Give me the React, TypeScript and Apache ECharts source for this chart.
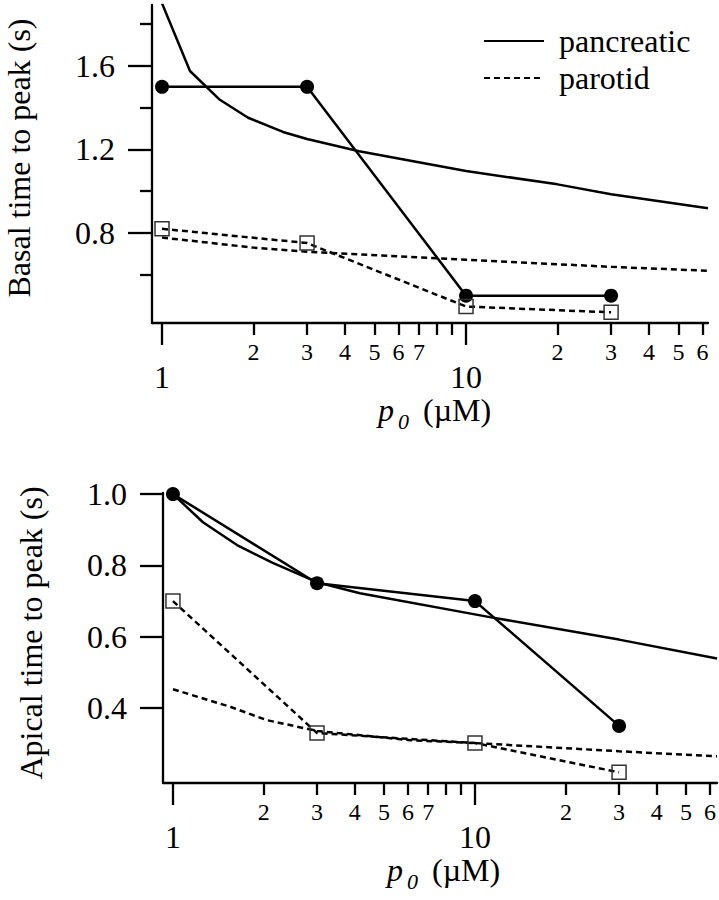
import React, { useEffect, useRef } from "react";
import * as echarts from "echarts";

const FONT = "Liberation Serif";

// ---------- Basal (top panel) ----------
const basalPancModelX = [1, 1.236, 1.55, 1.92, 2.5, 3, 4.45, 10, 20, 30, 62.5];
const basalPancModelY = [1.9, 1.576, 1.438, 1.352, 1.284, 1.25, 1.192, 1.097, 1.033, 0.986, 0.919];
const basalParModelX = [1, 2, 3, 10, 30, 62.5];
const basalParModelY = [0.778, 0.73, 0.71, 0.672, 0.638, 0.619];
const basalPancDataX = [1, 3, 10, 30];
const basalPancDataY = [1.5, 1.5, 0.5, 0.5];
const basalParDataX = [1, 3, 10, 30];
const basalParDataY = [0.82, 0.752, 0.448, 0.42];

// ---------- Apical (bottom panel) ----------
const apicalPancModelX = [1, 1.257, 1.63, 2.14, 3, 4.16, 11.2, 30, 63.3];
const apicalPancModelY = [1.0, 0.921, 0.857, 0.807, 0.753, 0.722, 0.655, 0.592, 0.539];
const apicalParModelX = [1, 1.555, 2.05, 3, 6.1, 10, 30, 63.3];
const apicalParModelY = [0.453, 0.403, 0.366, 0.336, 0.31, 0.302, 0.279, 0.265];
const apicalPancDataX = [1, 3, 10, 30];
const apicalPancDataY = [1.0, 0.75, 0.7, 0.35];
const apicalParDataX = [1, 3, 10, 30];
const apicalParDataY = [0.7, 0.33, 0.302, 0.22];

// ---------- Ticks ----------
const xMajorTicks = [1, 10];
const xMinorTicks = [2, 3, 4, 5, 6, 7, 8, 9, 20, 30, 40, 50, 60];
const xMinorLabels = [2, 3, 4, 5, 6, 7, 20, 30, 40, 50, 60];
const basalYMajor = [0.8, 1.2, 1.6];
const basalYMinor = [0.6, 1.0, 1.4, 1.8];
const apicalYTicks = [0.4, 0.6, 0.8, 1.0];

const zip = (xs: number[], ys: number[]) => xs.map((x, i) => [x, ys[i]]);

const BLACK = "#000";
const lineStyleAxis = { color: BLACK, width: 2.3 };

function xMajor(gridIndex: number, min: number, max: number) {
  return {
    type: "log",
    logBase: 10,
    gridIndex,
    min,
    max,
    position: "bottom",
    axisLine: { show: true, onZero: false, lineStyle: lineStyleAxis },
    axisTick: { show: true, length: 22, lineStyle: lineStyleAxis, customValues: xMajorTicks },
    axisLabel: {
      show: true,
      customValues: xMajorTicks,
      fontSize: 32,
      margin: 38,
      color: BLACK,
      fontFamily: FONT,
      formatter: (v: number) => String(Math.round(v)),
    },
    splitLine: { show: false },
    minorTick: { show: false },
  };
}

function xMinor(gridIndex: number, min: number, max: number) {
  return {
    type: "log",
    logBase: 10,
    gridIndex,
    min,
    max,
    position: "bottom",
    axisLine: { show: false },
    axisTick: { show: true, length: 12, lineStyle: lineStyleAxis, customValues: xMinorTicks },
    axisLabel: {
      show: true,
      customValues: xMinorLabels,
      fontSize: 24,
      margin: 17,
      color: BLACK,
      fontFamily: FONT,
      formatter: (v: number) => {
        const p = Math.pow(10, Math.floor(Math.log10(v) + 1e-9));
        return String(Math.round(v / p));
      },
    },
    splitLine: { show: false },
    minorTick: { show: false },
  };
}

function yAxis(
  gridIndex: number,
  min: number,
  max: number,
  ticks: number[],
  tickLen: number,
  labels: boolean,
  line: boolean,
  margin: number
) {
  return {
    type: "value",
    gridIndex,
    position: "left",
    offset: 0,
    min,
    max,
    axisLine: { show: line, onZero: false, lineStyle: lineStyleAxis },
    axisTick: { show: true, length: tickLen, lineStyle: lineStyleAxis, customValues: ticks },
    axisLabel: labels
      ? {
          show: true,
          customValues: ticks,
          fontSize: 32,
          margin,
          color: BLACK,
          fontFamily: FONT,
          formatter: (v: number) => v.toFixed(1),
        }
      : { show: false },
    splitLine: { show: false },
  };
}

const solid = { color: BLACK, width: 2.5, type: "solid" as const };
const dashed = { color: BLACK, width: 2.5, type: [6, 4] };

function modelSeries(name: string, xi: number, yi: number, data: number[][], ls: any) {
  return {
    name,
    type: "line",
    xAxisIndex: xi,
    yAxisIndex: yi,
    data,
    symbol: "none",
    smooth: false,
    lineStyle: ls,
    itemStyle: { color: BLACK },
    clip: true,
    z: 2,
  };
}

function circleSeries(name: string, xi: number, yi: number, data: number[][]) {
  return {
    name,
    type: "line",
    xAxisIndex: xi,
    yAxisIndex: yi,
    data,
    symbol: "circle",
    symbolSize: 14,
    lineStyle: solid,
    itemStyle: { color: BLACK },
    z: 3,
  };
}

function squareSeries(name: string, xi: number, yi: number, data: number[][]) {
  return {
    name,
    type: "line",
    xAxisIndex: xi,
    yAxisIndex: yi,
    data,
    symbol: "rect",
    symbolSize: 14,
    lineStyle: dashed,
    itemStyle: { color: "rgba(0,0,0,0)", borderColor: "#333", borderWidth: 1.5 },
    z: 3,
  };
}

function xTitle(x: number, y: number) {
  return {
    type: "group",
    x,
    y,
    children: [
      {
        type: "text",
        x: 0,
        y: 0,
        style: { text: "p", fontSize: 32, fontStyle: "italic", fontFamily: FONT, fill: BLACK, align: "left", verticalAlign: "middle" },
      },
      {
        type: "text",
        x: 20,
        y: 11,
        style: { text: "0", fontSize: 22, fontStyle: "italic", fontFamily: FONT, fill: BLACK, align: "left", verticalAlign: "middle" },
      },
      {
        type: "text",
        x: 45,
        y: 0,
        style: { text: "(\u00B5M)", fontSize: 32, fontFamily: FONT, fill: BLACK, align: "left", verticalAlign: "middle" },
      },
    ],
  };
}

const option = {
  animation: false,
  backgroundColor: "#fff",
  textStyle: { fontFamily: FONT },
  grid: [
    { left: 152, top: 5, width: 556, height: 318, containLabel: false },
    { left: 163, top: 493, width: 554, height: 290, containLabel: false },
  ],
  xAxis: [
    xMajor(0, 0.927, 62.5),
    xMinor(0, 0.927, 62.5),
    xMajor(1, 0.927, 63.3),
    xMinor(1, 0.927, 63.3),
  ],
  yAxis: [
    yAxis(0, 0.369, 1.892, basalYMajor, 24, true, true, 37),
    yAxis(0, 0.369, 1.892, basalYMinor, 12, false, false, 0),
    yAxis(1, 0.19, 1.003, apicalYTicks, 23, true, true, 36),
  ],
  legend: {
    data: ["pancreatic", "parotid"],
    left: 483,
    top: 25,
    orient: "vertical",
    itemWidth: 60,
    itemHeight: 14,
    itemGap: 5,
    padding: 0,
    selectedMode: false,
    itemStyle: { opacity: 0 },
    textStyle: { fontSize: 32, lineHeight: 32, fontFamily: FONT, color: BLACK, padding: [0, 0, 0, 10] },
  },
  series: [
    modelSeries("pancreatic", 0, 0, zip(basalPancModelX, basalPancModelY), solid),
    modelSeries("parotid", 0, 0, zip(basalParModelX, basalParModelY), dashed),
    circleSeries("pancreatic data", 0, 0, zip(basalPancDataX, basalPancDataY)),
    squareSeries("parotid data", 0, 0, zip(basalParDataX, basalParDataY)),
    modelSeries("pancreatic", 2, 2, zip(apicalPancModelX, apicalPancModelY), solid),
    modelSeries("parotid", 2, 2, zip(apicalParModelX, apicalParModelY), dashed),
    circleSeries("pancreatic data (apical)", 2, 2, zip(apicalPancDataX, apicalPancDataY)),
    squareSeries("parotid data (apical)", 2, 2, zip(apicalParDataX, apicalParDataY)),
  ],
  graphic: [
    {
      type: "text",
      x: 19,
      y: 158,
      rotation: Math.PI / 2,
      style: { text: "Basal time to peak (s)", fontSize: 32, fontFamily: FONT, fill: BLACK, align: "center", verticalAlign: "middle" },
    },
    {
      type: "text",
      x: 31,
      y: 633,
      rotation: Math.PI / 2,
      style: { text: "Apical time to peak (s)", fontSize: 32, fontFamily: FONT, fill: BLACK, align: "center", verticalAlign: "middle" },
    },
    xTitle(378, 410),
    xTitle(387, 870),
  ],
};

export default function App() {
  const ref = useRef<HTMLDivElement>(null);
  useEffect(() => {
    if (!ref.current) return;
    const chart = echarts.init(ref.current, null, { renderer: "svg" });
    chart.setOption(option as any);
    return () => chart.dispose();
  }, []);
  return (
    <div
      ref={ref}
      style={{ position: "fixed", left: 0, top: 0, width: 719, height: 900, background: "#fff" }}
    />
  );
}
